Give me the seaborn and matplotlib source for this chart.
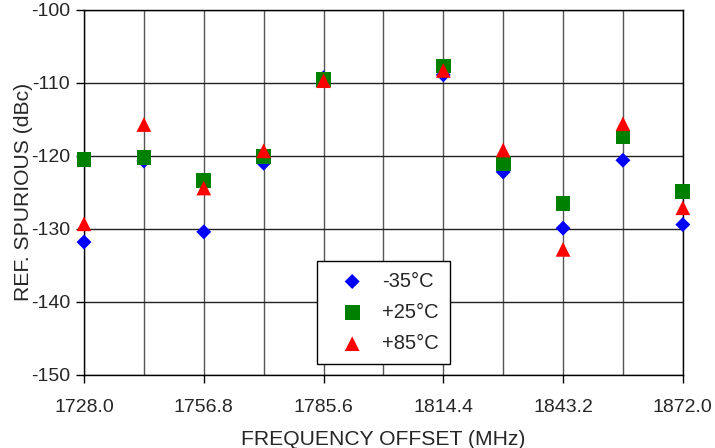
import numpy as np
import pandas as pd
import seaborn as sns
import matplotlib.pyplot as plt
from matplotlib.ticker import MultipleLocator, FormatStrFormatter

# frequency offsets (MHz) where spurious was measured
freq = [1728.0, 1742.4, 1756.8, 1771.2, 1785.6, 1814.4, 1828.8, 1843.2, 1857.6, 1872.0]

# reference spurious (dBc) per temperature
spur_m35 = [-131.8, -120.7, -130.4, -121.0, -109.3, -108.9, -122.2, -129.9, -120.6, -129.4]
spur_p25 = [-120.5, -120.2, -123.4, -120.1, -109.5, -107.7, -121.0, -126.5, -117.4, -124.9]
spur_p85 = [-129.3, -115.7, -124.4, -119.3, -109.7, -108.3, -119.2, -132.8, -115.6, -127.1]

labels = ["-35°C", "+25°C", "+85°C"]

df = pd.concat([
    pd.DataFrame({"freq": freq, "spur": spur_m35, "temp": labels[0]}),
    pd.DataFrame({"freq": freq, "spur": spur_p25, "temp": labels[1]}),
    pd.DataFrame({"freq": freq, "spur": spur_p85, "temp": labels[2]}),
])

sns.set_style("white")
plt.rcParams['font.family'] = ['Liberation Sans', 'DejaVu Sans']
plt.rcParams['axes.unicode_minus'] = False

fig = plt.figure(figsize=(7.15, 4.48), dpi=100)
ax = fig.add_axes([0.1175, 0.163, 0.8375, 0.815])

styles = {
    labels[0]: dict(color="#0000ff", marker="D", s=58),
    labels[1]: dict(color="#008000", marker="s", s=112),
    labels[2]: dict(color="#ff0000", marker="^", s=112),
}
for lab in labels:
    st = styles[lab]
    sns.scatterplot(data=df[df["temp"] == lab], x="freq", y="spur", ax=ax,
                    color=st["color"], marker=st["marker"], s=st["s"],
                    edgecolor="none", label=lab, clip_on=False, zorder=3)

ax.set_xlim(1728, 1872)
ax.set_ylim(-150, -100)
ax.xaxis.set_major_locator(MultipleLocator(28.8))
ax.xaxis.set_minor_locator(MultipleLocator(14.4))
ax.yaxis.set_major_locator(MultipleLocator(10))
ax.xaxis.set_major_formatter(FormatStrFormatter("%.1f"))
ax.yaxis.set_major_formatter(FormatStrFormatter("%d"))

ax.grid(True, which="both", axis="x", color="#555555", linewidth=1.0)
ax.grid(True, which="major", axis="y", color="#222222", linewidth=1.0)
ax.set_axisbelow(True)
for sp in ax.spines.values():
    sp.set_color("black")
    sp.set_linewidth(1.0)

ax.tick_params(axis="both", which="major", direction="out", length=6, width=1,
               color="black", labelsize=14, bottom=True, left=True)
ax.tick_params(axis="x", which="major", pad=11)
ax.tick_params(axis="y", which="major", pad=4)
ax.tick_params(axis="x", which="minor", length=0)

ax.set_xlabel("FREQUENCY OFFSET (MHz)", fontsize=15.2)
ax.set_ylabel("REF. SPURIOUS (dBc)", fontsize=15.2)
ax.xaxis.set_label_coords(0.5, -0.152)
ax.yaxis.set_label_coords(-0.085, 0.5)

leg = ax.legend(loc="lower left", bbox_to_anchor=(0.389, 0.030), frameon=True,
                fancybox=False, fontsize=14.5, handletextpad=0.3,
                labelspacing=0.6, borderpad=0.55, borderaxespad=0,
                handlelength=2.4)
leg.get_frame().set_edgecolor("black")
leg.get_frame().set_linewidth(1.0)
leg.get_frame().set_alpha(1)

fig.savefig("out.png", dpi=100)
